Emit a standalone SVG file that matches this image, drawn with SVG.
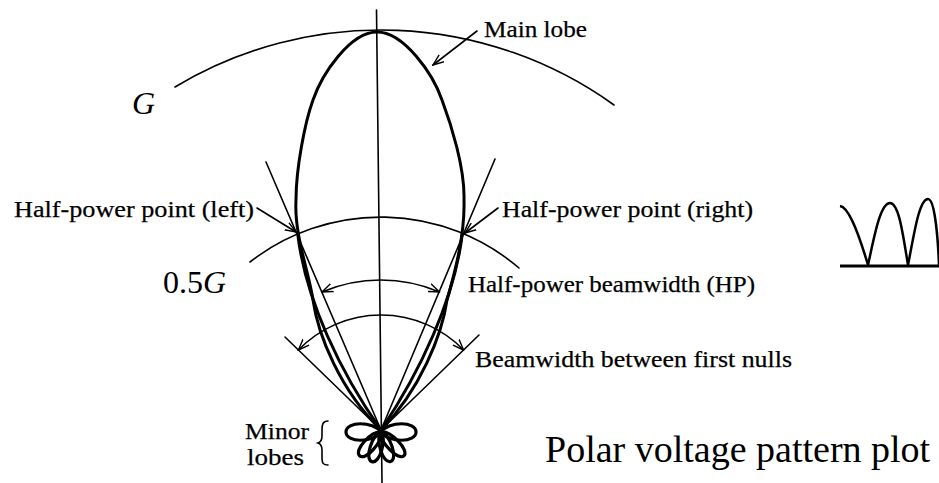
<svg xmlns="http://www.w3.org/2000/svg" width="939" height="483" viewBox="0 0 939 483">
<defs>
<style>
.thin{fill:none;stroke:#000;stroke-width:1.6;stroke-linecap:round}
.thick{fill:none;stroke:#000;stroke-width:3;stroke-linejoin:round;stroke-linecap:round}
.petal{fill:none;stroke:#000;stroke-width:3.2;stroke-linejoin:round}
.lbl{font-family:"Liberation Serif","Times New Roman",serif;font-size:24px;fill:#000;stroke:#000;stroke-width:0.25}
.big{font-family:"Liberation Serif","Times New Roman",serif;font-size:32px;fill:#000}
.title{font-family:"Liberation Serif","Times New Roman",serif;font-size:38px;fill:#000}
</style>
<marker id="arr" viewBox="0 0 12 10" refX="11" refY="5" markerWidth="12" markerHeight="10" markerUnits="userSpaceOnUse" orient="auto-start-reverse">
<path d="M0,0.8 L11,5 L0,9.2" fill="none" stroke="#000" stroke-width="1.4"/>
</marker>
</defs>
<rect width="939" height="483" fill="#fff"/>

<g id="axis">
<line class="thin" x1="376.5" y1="10" x2="382" y2="483" stroke-width="1.8"/>
</g>

<g id="gain-arcs">
<path class="thin" d="M175,87 A400,400 0 0 1 614,105" stroke-width="1.8"/>
<path class="thin" d="M250,262 A213,213 0 0 1 519,268" stroke-width="1.8"/>
</g>

<g id="main-lobe">
<path class="thick" d="M381,430 C340,390 318,335 313,300 C309,272 294,235 296,200 C296,168 305,122 313,100 C322,74 350,32 377,32 C404,32 433,74 442,100 C451,124 465,168 464,200 C465,235 455,272 447,300 C442,335 420,390 381,430 Z"/>
<path class="thick" stroke-width="2.5" d="M298,236 C306,300 340,372 381,430"/>
<path class="thick" stroke-width="2.5" d="M462,236 C454,300 420,372 381,430"/>
</g>

<g id="minor-lobes" transform="translate(381,432)">
<path class="petal" d="M0,0 C8,-11 35,-11 35,0 C35,11 8,11 0,0" transform="rotate(180)"/>
<path class="petal" d="M0,0 C8,-11 35,-11 35,0 C35,11 8,11 0,0"/>
<path class="petal" d="M0,0 C6,-8 32,-8 32,0 C32,8 6,8 0,0" transform="rotate(132)"/>
<path class="petal" d="M0,0 C6,-8 31,-8 31,0 C31,8 6,8 0,0" transform="rotate(107)"/>
<path class="petal" d="M0,0 C6,-8 31,-8 31,0 C31,8 6,8 0,0" transform="rotate(72)"/>
<path class="petal" d="M0,0 C6,-8 33,-8 33,0 C33,8 6,8 0,0" transform="rotate(46)"/>
</g>

<g id="connectors">
<line class="thin" x1="266" y1="162" x2="381" y2="430"/>
<line class="thin" x1="495" y1="159" x2="381" y2="430"/>
<line class="thin" x1="285" y1="337" x2="381" y2="430"/>
<line class="thin" x1="479" y1="335" x2="381" y2="430"/>
<path class="thin" d="M322,292 A150,150 0 0 1 439.5,292" marker-start="url(#arr)" marker-end="url(#arr)"/>
<path class="thin" d="M298.4,350 A115,115 0 0 1 463.6,350" marker-start="url(#arr)" marker-end="url(#arr)"/>
<line class="thin" x1="477" y1="31" x2="433" y2="65" marker-end="url(#arr)"/>
<line class="thin" x1="257" y1="208" x2="296" y2="232" marker-end="url(#arr)"/>
<line class="thin" x1="498" y1="208" x2="465" y2="233" marker-end="url(#arr)"/>
</g>

<g id="brace">
<path class="thin" stroke-width="1.5" d="M328,421 C323,421 322,424 322,430 L322,436 C322,440 321,442 318,443 C321,444 322,446 322,450 L322,458 C322,463 323,465 328,465"/>
</g>

<g id="labels">
<text class="lbl" x="484" y="37" textLength="103" lengthAdjust="spacingAndGlyphs">Main lobe</text>
<text class="big" x="132" y="114" font-style="italic">G</text>
<text class="lbl" x="14" y="217" textLength="240" lengthAdjust="spacingAndGlyphs">Half-power point (left)</text>
<text class="lbl" x="502" y="217" textLength="251" lengthAdjust="spacingAndGlyphs">Half-power point (right)</text>
<text class="big" x="163" y="293">0.5<tspan font-style="italic">G</tspan></text>
<text class="lbl" x="468" y="292" textLength="287" lengthAdjust="spacingAndGlyphs">Half-power beamwidth (HP)</text>
<text class="lbl" x="475" y="367" textLength="317" lengthAdjust="spacingAndGlyphs">Beamwidth between first nulls</text>
<text class="lbl" x="309" y="439" text-anchor="end" textLength="64" lengthAdjust="spacingAndGlyphs">Minor</text>
<text class="lbl" x="304" y="465" text-anchor="end" textLength="57" lengthAdjust="spacingAndGlyphs">lobes</text>
<text class="title" x="545" y="462">Polar voltage pattern plot</text>
</g>

<g id="inset">
<line x1="840" y1="266" x2="939" y2="266" stroke="#000" stroke-width="3"/>
<path fill="none" stroke="#000" stroke-width="2.5" stroke-linejoin="round" d="M840,206 C848,207 857,228 868,265 C874,238 880,203 890,203 C899,203 903,235 908,265 C914,235 919,199 928,199 C935,199 938,240 939,265"/>
</g>
</svg>
